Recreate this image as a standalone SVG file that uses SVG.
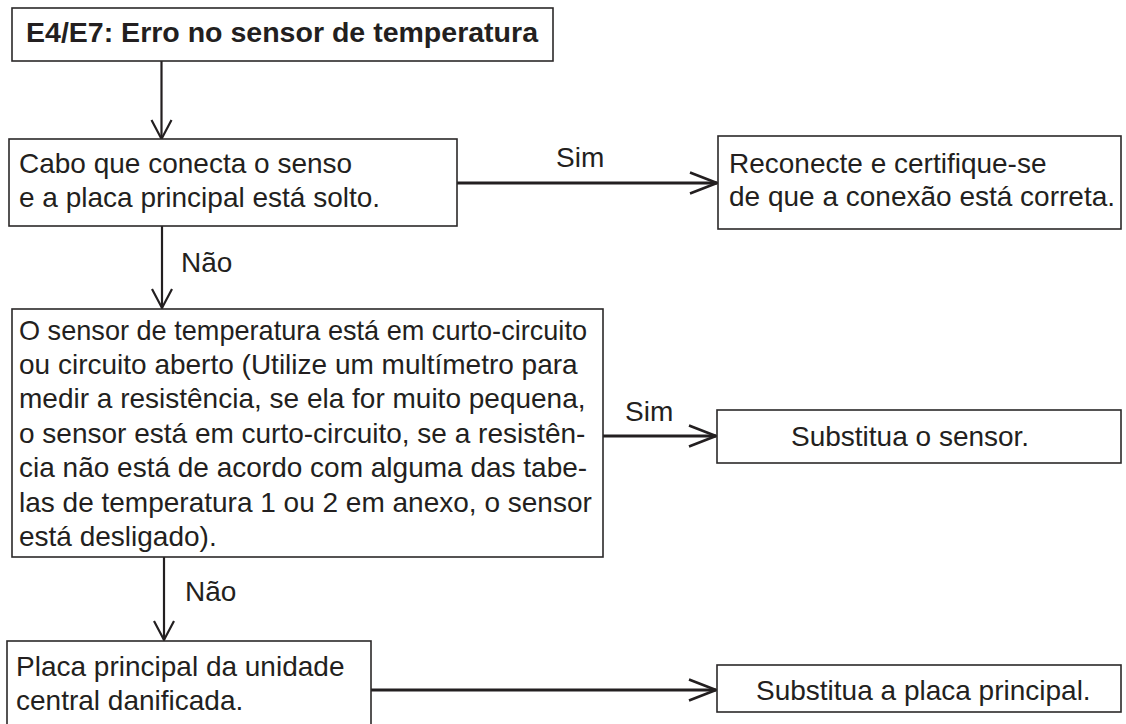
<svg xmlns="http://www.w3.org/2000/svg" width="1126" height="724" viewBox="0 0 1126 724">
<style>
.box{fill:#fff;stroke:#2b2829;stroke-width:1.6}
.t{font-family:"Liberation Sans",Arial,sans-serif;font-size:28px;fill:#231f20}
.b{font-weight:bold}
.c{fill:none;stroke:#231f20;stroke-width:2.2}
.h{stroke-width:3.2}
</style>
<defs>
<marker id="av" markerUnits="userSpaceOnUse" markerWidth="24" markerHeight="24" viewBox="0 0 24 24" refX="21" refY="12" orient="auto">
<path d="M2,2 L21,12 L2,22" fill="none" stroke="#231f20" stroke-width="2.2"/>
</marker>
<marker id="ah" markerUnits="userSpaceOnUse" markerWidth="32" markerHeight="26" viewBox="0 0 32 26" refX="29" refY="13" orient="auto">
<path d="M2,2.5 L29,13 L2,23.5" fill="none" stroke="#231f20" stroke-width="2.6"/>
</marker>
</defs>
<rect width="1126" height="724" fill="#fff"/>
<g id="connectors">
<line class="c" x1="161.5" y1="61" x2="161.5" y2="139" marker-end="url(#av)"/>
<line class="c h" x1="457" y1="183" x2="717" y2="183" marker-end="url(#ah)"/>
<line class="c" x1="162" y1="226" x2="162" y2="308" marker-end="url(#av)"/>
<line class="c h" x1="603" y1="436" x2="716" y2="436" marker-end="url(#ah)"/>
<line class="c" x1="164" y1="557" x2="164" y2="640" marker-end="url(#av)"/>
<line class="c h" x1="371" y1="690" x2="716" y2="690" marker-end="url(#ah)"/>
<text class="t" x="556" y="167">Sim</text>
<text class="t" x="181" y="272">Não</text>
<text class="t" x="625" y="421">Sim</text>
<text class="t" x="185" y="601">Não</text>
</g>
<g id="n1">
<rect class="box" x="12" y="8" width="541" height="53"/>
<text class="t b" x="26" y="42" textLength="512" lengthAdjust="spacingAndGlyphs">E4/E7: Erro no sensor de temperatura</text>
</g>
<g id="n2">
<rect class="box" x="9" y="139" width="448" height="87"/>
<text class="t" x="19" y="173">Cabo que conecta o senso</text>
<text class="t" x="19" y="207">e a placa principal está solto.</text>
</g>
<g id="n3">
<rect class="box" x="718" y="136" width="403" height="93"/>
<text class="t" x="729" y="173">Reconecte e certifique-se</text>
<text class="t" x="729" y="206">de que a conexão está correta.</text>
</g>
<g id="n4">
<rect class="box" x="12" y="309" width="591" height="248"/>
<text class="t" x="19" y="340" textLength="568" lengthAdjust="spacingAndGlyphs">O sensor de temperatura está em curto-circuito</text>
<text class="t" x="19" y="374">ou circuito aberto (Utilize um multímetro para</text>
<text class="t" x="19" y="408">medir a resistência, se ela for muito pequena,</text>
<text class="t" x="19" y="443">o sensor está em curto-circuito, se a resistên-</text>
<text class="t" x="19" y="477">cia não está de acordo com alguma das tabe-</text>
<text class="t" x="19" y="512">las de temperatura 1 ou 2 em anexo, o sensor</text>
<text class="t" x="19" y="546">está desligado).</text>
</g>
<g id="n5">
<rect class="box" x="717" y="410" width="404" height="53"/>
<text class="t" x="791" y="446">Substitua o sensor.</text>
</g>
<g id="n6">
<rect class="box" x="7" y="641" width="364" height="100"/>
<text class="t" x="16" y="676">Placa principal da unidade</text>
<text class="t" x="16" y="710">central danificada.</text>
</g>
<g id="n7">
<rect class="box" x="717" y="665" width="404" height="47"/>
<text class="t" x="756" y="700">Substitua a placa principal.</text>
</g>
</svg>
